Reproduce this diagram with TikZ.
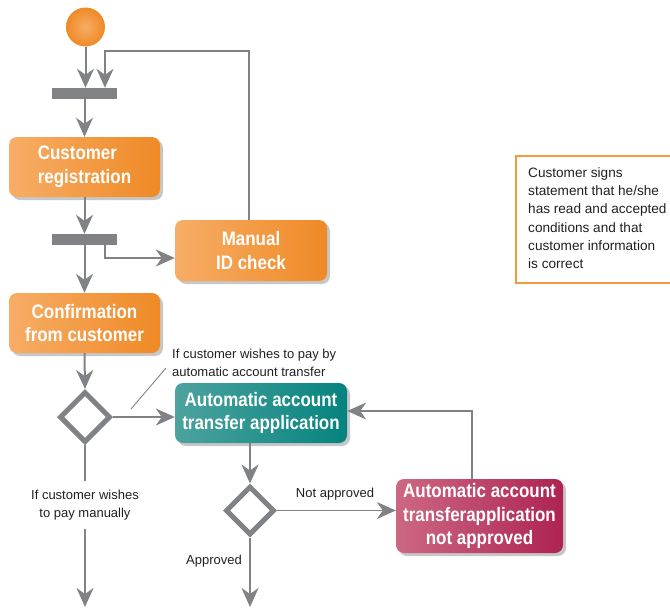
\documentclass[tikz,border=0pt]{standalone}
\usepackage{fontspec}
\setmainfont{Liberation Sans}
\newfontfamily\condfont[FakeStretch=0.87]{Liberation Sans}
\usetikzlibrary{arrows.meta,shapes.geometric,shadows,calc}
\definecolor{orL}{HTML}{F7AD66}
\definecolor{orD}{HTML}{EF8A26}
\definecolor{tlL}{HTML}{4CA39F}
\definecolor{tlD}{HTML}{05837E}
\definecolor{rdL}{HTML}{CC6883}
\definecolor{rdD}{HTML}{AE2352}
\definecolor{gr}{HTML}{808285}
\definecolor{noteor}{HTML}{F39A3C}
\definecolor{txt}{HTML}{231F20}
\begin{document}
\begin{tikzpicture}[x=1pt,y=-1pt,
  act/.style={rectangle, rounded corners=8pt, text=white, align=center,
    font=\condfont\bfseries\fontsize{19.5}{23.5}\selectfont, inner sep=0pt,
    drop shadow={shadow xshift=3pt, shadow yshift=-3pt, fill=black!22, opacity=1}},
  orangeact/.style={act, left color=orL, right color=orD},
  tealact/.style={act, left color=tlL, right color=tlD},
  redact/.style={act, left color=rdL, right color=rdD},
  bar/.style={rectangle, fill=gr, minimum width=65pt, minimum height=11pt, inner sep=0pt},
  dec/.style={diamond, draw=gr, line width=5pt, fill=white, inner sep=0pt, aspect=1},
  arr/.style={draw=gr, line width=2pt, -{Stealth[length=19pt,width=17pt,inset=6pt]}},
  tarr/.style={draw=gr, line width=1.3pt, -{Stealth[length=19pt,width=17pt,inset=6pt]}},
  tline/.style={draw=gr, line width=1.3pt},
  lab/.style={text=txt, font=\fontsize{13}{18.5}\selectfont, inner sep=0pt}
]
\useasboundingbox (0,0) rectangle (670,608);

% nodes
\node[circle, minimum size=39pt, inner sep=0pt, inner color=orL, outer color=orD] (start) at (85.5,27) {};
\node[bar] (bar1) at (84.5,93.5) {};
\node[orangeact, minimum width=151pt, minimum height=60pt, align=left] (reg) at (84.5,167) {Customer\\registration};
\node[bar] (bar2) at (84.5,239.5) {};
\node[orangeact, minimum width=152pt, minimum height=61pt] (manual) at (251,250.5) {Manual\\ID check};
\node[orangeact, minimum width=151pt, minimum height=60pt] (conf) at (84.5,323) {Confirmation\\from customer};
\node[dec, minimum size=51pt] (d1) at (85,417) {};
\node[tealact, minimum width=172pt, minimum height=60pt] (teal) at (261,413) {Automatic account\\transfer application};
\node[dec, minimum size=49pt] (d2) at (250,510.5) {};
\node[redact, minimum width=167pt, minimum height=74pt] (red) at (479.5,516) {Automatic account\\transferapplication\\not approved};

% note
\begin{scope}
\clip (0,0) rectangle (670,608);
\draw[noteor, line width=1.3pt] (516,156) rectangle (675,283);
\end{scope}
\node[lab, anchor=north west, align=left, font=\fontsize{13.6}{18.2}\selectfont] (note) at (528,167.5) {Customer signs\\statement that he/she\\has read and accepted\\conditions and that\\customer information\\is correct};

% labels
\node[lab, anchor=north west, align=left] (autolab) at (172,348.5) {If customer wishes to pay by\\automatic account transfer};
\coordinate (annA) at (131,409);
\coordinate (annB) at (166,368);
\draw[gr, line width=0.9pt] (annA) -- (annB);
\node[lab, align=center, fill=white, inner ysep=8pt] (manlab) at (85,505) {If customer wishes\\to pay manually};
\node[lab] (notappr) at (335,494.5) {Not approved};
\node[lab] (appr) at (214,561.5) {Approved};

% coordinates
\coordinate (loopc) at (105,51);
\coordinate (b2r) at (105,245);
\coordinate (end1) at (85,607);
\coordinate (end2) at (250,607);

% connectors
\draw[arr] (start.south) -- (start.south |- bar1.north);
\draw[tarr] (manual.north -| 249,0) |- (loopc) -- (loopc |- bar1.north);
\draw[arr] (bar1.south) -- (reg.north);
\draw[arr] (reg.south) -- (bar2.north);
\draw[tarr] (b2r) |- ($(manual.west)+(0,7.5)$);
\draw[arr] (bar2.south) -- (conf.north);
\draw[arr] (conf.south) -- (d1.north);
\draw[tarr] (d1.east) -- (d1.east -| teal.west);
\draw[tline] (d1.south) -- (manlab.north);
\draw[arr] (manlab.south) -- (end1);
\draw[arr] (d2.north |- teal.south) -- (d2.north);
\draw[tarr] (d2.east) -- (d2.east -| red.west);
\draw[tarr] ($(red.north)+(-7.5,0)$) |- ($(teal.east)+(0,-2)$);
\draw[arr] (d2.south) -- (end2);
\end{tikzpicture}
\end{document}
